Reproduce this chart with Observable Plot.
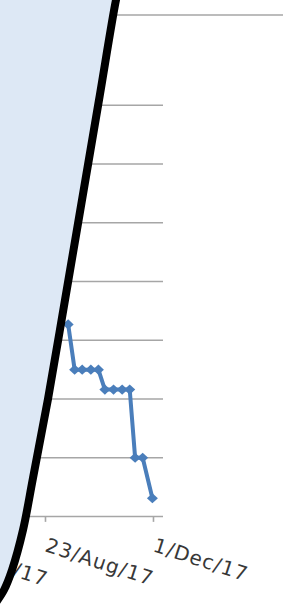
<!DOCTYPE html>
<html>
<head>
<meta charset="utf-8">
<script src="https://cdn.jsdelivr.net/npm/d3@7"></script>
<script src="https://cdn.jsdelivr.net/npm/@observablehq/plot@0.6"></script>
<style>
  html, body { margin: 0; padding: 0; background: #fff; overflow: hidden; }
  #chart { position: relative; width: 283px; height: 606px; overflow: hidden; }
  #chart svg { display: block; overflow: hidden; }
</style>
</head>
<body>
<div id="chart"></div>
<script>
// ---- data ----
const dates = ["2017-09-13","2017-09-19","2017-09-26","2017-10-04","2017-10-11",
               "2017-10-17","2017-10-25","2017-11-02","2017-11-09",
               "2017-11-14","2017-11-21","2017-11-30"];
const values = [3.27, 2.5, 2.5, 2.5, 2.5, 2.16, 2.16, 2.16, 2.16, 1.0, 1.0, 0.31];
const tickDates = ["2017-05-15", "2017-08-23", "2017-12-01"];
const tickLabels = ["15/May/17", "23/Aug/17", "1/Dec/17"];
const gridValues = [1, 2, 3, 4, 5, 6, 7];

const data = dates.map((d, i) => ({date: new Date(d + "T00:00:00Z"), value: values[i]}));
const ticks = tickDates.map((d, i) => ({date: new Date(d + "T00:00:00Z"), label: tickLabels[i]}));

const blue = "#4a7ebb";
const grid = "#a6a6a6";

// diamond marker
const diamond = {
  draw(ctx, size) {
    const r = Math.sqrt(size / 2.6);
    ctx.moveTo(0, -r * 0.92); ctx.lineTo(r, 0); ctx.lineTo(0, r * 0.92); ctx.lineTo(-r, 0); ctx.closePath();
  }
};

const plot = Plot.plot({
  width: 283,
  height: 606,
  marginLeft: 0,
  marginRight: 120,
  marginTop: 46,
  marginBottom: 90,
  style: {fontFamily: "'DejaVu Sans', sans-serif", fontSize: "20px", background: "#fff", overflow: "hidden"},
  x: {type: "utc", domain: [new Date("2017-05-10T00:00:00Z"), new Date("2017-12-10T00:00:00Z")], range: [-68.4, 162.7], axis: null},
  y: {domain: [0, 8], axis: null},
  marks: [
    Plot.ruleY(gridValues, {stroke: grid, strokeWidth: 1.6}),
    Plot.ruleY([0], {stroke: grid, strokeWidth: 1.6}),
    Plot.ruleX(ticks, {x: "date", y1: 0, y2: -0.1, stroke: grid, strokeWidth: 1.6}),
    Plot.text(ticks, {x: "date", y: 0, text: "label", rotate: 18, textAnchor: "start", lineAnchor: "top",
                      dy: 21, dx: 3, fill: "#383838", style: "letter-spacing: 1px"}),
    Plot.line(data, {x: "date", y: "value", stroke: blue, strokeWidth: 4}),
    Plot.dot(data, {x: "date", y: "value", symbol: diamond, r: 5, fill: blue, stroke: "none"})
  ]
});

document.getElementById("chart").appendChild(plot);
plot.querySelectorAll("text").forEach(t => t.style.letterSpacing = "1px");

// ---- decorative overlay: top border line and the light-blue panel with black edge ----
const svg = d3.select(plot);
svg.append("line")
  .attr("x1", 100).attr("x2", 283).attr("y1", 15).attr("y2", 15)
  .attr("stroke", grid).attr("stroke-width", 1.6);

const edge = [[119, -12], [116, 0], [99, 100], [82, 200], [65, 300], [48, 399],
              [33, 478], [23, 530], [12, 570], [4, 590], [-8, 608]];
const lineGen = d3.line().curve(d3.curveCatmullRom.alpha(0.5));
svg.append("path")
  .attr("d", "M-20,-20 L119,-20 " + lineGen(edge).replace(/^M/, "L") + " L-20,620 Z")
  .attr("fill", "#dde8f5").attr("stroke", "none");
svg.append("path")
  .attr("d", lineGen(edge))
  .attr("fill", "none").attr("stroke", "#000").attr("stroke-width", 8);
</script>
</body>
</html>
